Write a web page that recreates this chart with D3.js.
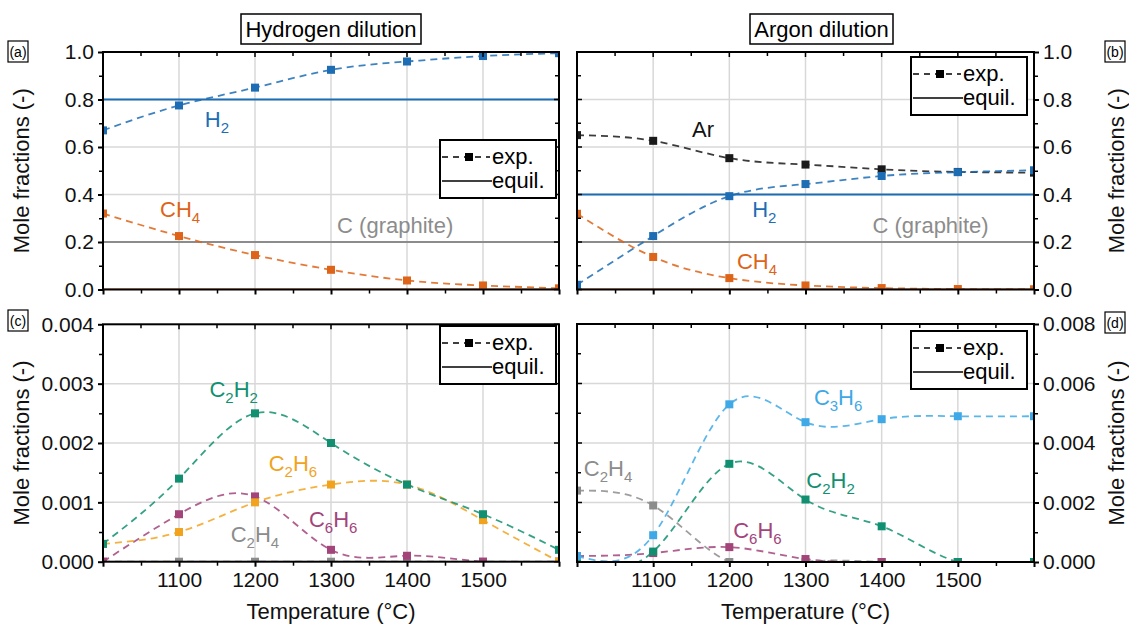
<!DOCTYPE html>
<html>
<head>
<meta charset="utf-8">
<script src="https://cdn.jsdelivr.net/npm/d3@7"></script>
<style>
  body { margin: 0; background: #fff; }
  text { font-family: "Liberation Sans", Arial, sans-serif; }
</style>
</head>
<body>
<svg id="chart" width="1129" height="624"></svg>
<script>
// temperatures (°C)
const temps = [1000, 1100, 1200, 1300, 1400, 1500, 1600];
const xTickLabels = [1100, 1200, 1300, 1400, 1500];

// (a) hydrogen dilution, main species
const h2Hyd  = [0.67, 0.775, 0.85, 0.925, 0.96, 0.983, 0.995];
const ch4Hyd = [0.32, 0.225, 0.145, 0.083, 0.038, 0.017, 0.005];
// (b) argon dilution, main species
const arArg  = [0.65, 0.626, 0.553, 0.526, 0.506, 0.495, 0.492];
const h2Arg  = [0.02, 0.225, 0.393, 0.444, 0.478, 0.494, 0.502];
const ch4Arg = [0.319, 0.137, 0.048, 0.017, 0.006, 0.002, 0.001];
// (c) hydrogen dilution, minor species
const c2h2Hyd = [0.0003, 0.0014, 0.0025, 0.002, 0.0013, 0.0008, 0.0002];
const c2h6Hyd = [0.0003, 0.0005, 0.001, 0.0013, 0.0013, 0.0007, 0.0];
const c6h6Hyd = [0.0, 0.0008, 0.0011, 0.0002, 0.0001, 0.0, 0.0];
const c2h4Hyd = [0.0, 0.0, 0.0, 0.0, 0.0, 0.0, 0.0];
// (d) argon dilution, minor species
const c3h6Arg = [0.0002, 0.0009, 0.0053, 0.0047, 0.0048, 0.0049, 0.0049];
const c2h2Arg = [0.0, 0.00035, 0.0033, 0.0021, 0.0012, 0.0, 0.0];
const c2h4Arg = [0.0024, 0.0019, 0.0, 0.0, 0.0, 0.0, 0.0];
const c6h6Arg = [0.0002, 0.0003, 0.0005, 0.0001, 0.0, 0.0, 0.0];

// equilibrium values [H2, C(graphite), CH4]
const equilHyd = [0.8, 0.2, 0.0];
const equilArg = [0.4, 0.2, 0.0];

const col = {
  h2: "#1c6db4", ch4: "#dd6418", gray: "#8c8c8c", ar: "#1a1a1a",
  c2h2: "#109070", c2h6: "#f2a31e", c6h6: "#a3447b", c3h6: "#3ea9e6"
};

const svg = d3.select("#chart");
const defs = svg.append("defs");

function drawPanel(p) {
  const x = d3.scaleLinear().domain([1000, 1600]).range([p.x0, p.x1]);
  const y = d3.scaleLinear().domain([0, p.yMax]).range([p.y1, p.y0]);
  const g = svg.append("g");

  defs.append("clipPath").attr("id", "clip-" + p.id)
    .append("rect").attr("x", p.x0).attr("y", p.y0)
    .attr("width", p.x1 - p.x0).attr("height", p.y1 - p.y0);

  const yMajor = d3.range(0, p.yMax + p.yStep / 2, p.yStep);
  const yMinor = d3.range(p.yStep / 2, p.yMax, p.yStep);
  const xMajor = d3.range(1000, 1601, 100);
  const xMinor = d3.range(1050, 1600, 50).filter(v => v % 100 !== 0);

  // grid
  g.selectAll(".gx").data(xTickLabels).enter().append("line")
    .attr("x1", d => x(d)).attr("x2", d => x(d))
    .attr("y1", p.y0).attr("y2", p.y1)
    .attr("stroke", "#d8d8d8").attr("stroke-width", 1.5);
  g.selectAll(".gy").data(yMajor.slice(1, -1)).enter().append("line")
    .attr("x1", p.x0).attr("x2", p.x1)
    .attr("y1", d => y(d)).attr("y2", d => y(d))
    .attr("stroke", "#d8d8d8").attr("stroke-width", 1.5);

  const plot = g.append("g").attr("clip-path", `url(#clip-${p.id})`);

  // equilibrium lines
  (p.equil || []).forEach(e => {
    plot.append("line")
      .attr("x1", p.x0).attr("x2", p.x1)
      .attr("y1", y(e.v)).attr("y2", y(e.v))
      .attr("stroke", e.color).attr("stroke-width", 2);
  });

  const line = d3.line().curve(d3.curveNatural)
    .x((d, i) => x(temps[i])).y(d => y(d));

  p.series.forEach(s => {
    plot.append("path").datum(s.values)
      .attr("d", line)
      .attr("fill", "none")
      .attr("stroke", s.color).attr("stroke-width", 1.8)
      .attr("stroke-opacity", 0.85)
      .attr("stroke-dasharray", "7,5");
  });
  p.series.forEach(s => {
    plot.selectAll(null).data(s.values).enter().append("rect")
      .attr("x", (d, i) => x(temps[i]) - 4)
      .attr("y", d => y(d) - 4)
      .attr("width", 8).attr("height", 8)
      .attr("fill", s.color);
  });

  // frame
  g.append("rect").attr("x", p.x0).attr("y", p.y0)
    .attr("width", p.x1 - p.x0).attr("height", p.y1 - p.y0)
    .attr("fill", "none").attr("stroke", "#000").attr("stroke-width", 2);

  // labelled y axis (outward) and mirrored ticks (inward)
  const labelLeft = p.side === "left";
  const yAxis = (labelLeft ? d3.axisLeft(y) : d3.axisRight(y))
    .tickValues(yMajor).tickSize(5).tickPadding(4)
    .tickFormat(d3.format(p.fmt));
  const ya = g.append("g")
    .attr("transform", `translate(${labelLeft ? p.x0 : p.x1},0)`)
    .call(yAxis);
  ya.select(".domain").remove();
  ya.selectAll("line").attr("stroke-width", 2);
  ya.selectAll("text").attr("font-size", 21).attr("fill", "#111");

  const yMinorAxis = (labelLeft ? d3.axisLeft(y) : d3.axisRight(y))
    .tickValues(yMinor).tickSize(4).tickFormat("");
  const ym = g.append("g")
    .attr("transform", `translate(${labelLeft ? p.x0 : p.x1},0)`)
    .call(yMinorAxis);
  ym.select(".domain").remove();
  ym.selectAll("line").attr("stroke-width", 1.5);

  // inward ticks on the opposite side
  const xo = labelLeft ? p.x1 : p.x0;
  const dir = labelLeft ? -1 : 1;
  g.selectAll(".yin").data(yMajor.concat(yMinor)).enter().append("line")
    .attr("x1", xo).attr("x2", (d, i) => xo + dir * (i < yMajor.length ? 5 : 4))
    .attr("y1", d => y(d)).attr("y2", d => y(d))
    .attr("stroke", "#000").attr("stroke-width", 1.5);

  // bottom axis (outward)
  const xAxis = d3.axisBottom(x).tickValues(xMajor).tickSize(5).tickPadding(5)
    .tickFormat(d => p.xLabels && xTickLabels.includes(d) ? d : "");
  const xa = g.append("g").attr("transform", `translate(0,${p.y1})`).call(xAxis);
  xa.select(".domain").remove();
  xa.selectAll("line").attr("stroke-width", 2);
  xa.selectAll("text").filter(function () { return this.textContent === ""; }).remove();
  xa.selectAll("text").attr("font-size", 21).attr("fill", "#111");
  const xm = g.append("g").attr("transform", `translate(0,${p.y1})`)
    .call(d3.axisBottom(x).tickValues(xMinor).tickSize(4).tickFormat(""));
  xm.select(".domain").remove();
  xm.selectAll("text").remove();
  xm.selectAll("line").attr("stroke-width", 1.5);
  ym.selectAll("text").remove();
  // top inward ticks
  g.selectAll(".xin").data(xMajor.concat(xMinor)).enter().append("line")
    .attr("x1", d => x(d)).attr("x2", d => x(d))
    .attr("y1", p.y0).attr("y2", (d, i) => p.y0 + (i < xMajor.length ? 5 : 4))
    .attr("stroke", "#000").attr("stroke-width", 1.5);

  // species labels
  p.labels.forEach(l => {
    const t = g.append("text")
      .attr("x", x(l.t)).attr("y", y(l.v))
      .attr("font-size", 22).attr("fill", l.color);
    let shifted = false;
    l.parts.forEach(part => {
      const ts = t.append("tspan").text(part.s);
      if (part.sub) {
        ts.attr("font-size", 15).attr("dy", 6);
        shifted = true;
      } else if (shifted) {
        ts.attr("dy", -6);
        shifted = false;
      }
    });
  });

  // legend
  const lg = g.append("g").attr("transform", `translate(${p.legend[0]},${p.legend[1]})`);
  lg.append("rect").attr("width", 116).attr("height", 58)
    .attr("fill", "#fff").attr("stroke", "#000").attr("stroke-width", 2);
  lg.append("line").attr("x1", 2).attr("x2", 50).attr("y1", 17).attr("y2", 17)
    .attr("stroke", "#000").attr("stroke-width", 1.5).attr("stroke-dasharray", "6,5");
  lg.append("rect").attr("x", 25).attr("y", 13).attr("width", 8).attr("height", 8).attr("fill", "#000");
  lg.append("text").attr("x", 52).attr("y", 24).attr("font-size", 22).text("exp.");
  lg.append("line").attr("x1", 2).attr("x2", 52).attr("y1", 41).attr("y2", 41)
    .attr("stroke", "#000").attr("stroke-width", 1.5);
  lg.append("text").attr("x", 52).attr("y", 48).attr("font-size", 22).text("equil.");

  // y title
  g.append("text")
    .attr("transform", `translate(${p.yTitleX},${(p.y0 + p.y1) / 2}) rotate(-90)`)
    .attr("text-anchor", "middle").attr("font-size", 22).attr("fill", "#111")
    .text("Mole fractions (-)");

  if (p.xLabels) {
    g.append("text").attr("x", (p.x0 + p.x1) / 2).attr("y", 619)
      .attr("text-anchor", "middle").attr("font-size", 22).attr("fill", "#111")
      .text("Temperature (\u00b0C)");
  }

  // panel letter
  g.append("rect").attr("x", p.tag[0]).attr("y", p.tag[1]).attr("width", 20).attr("height", 21)
    .attr("fill", "#fff").attr("stroke", "#000").attr("stroke-width", 1.2);
  g.append("text").attr("x", p.tag[0] + 10).attr("y", p.tag[1] + 16)
    .attr("text-anchor", "middle").attr("font-size", 14).text(p.letter);
}

const sub = s => ({ s, sub: true });
const txt = s => ({ s });

drawPanel({
  id: "a", letter: "(a)", x0: 103, x1: 559, y0: 52, y1: 289.5, yMax: 1.0, yStep: 0.2, fmt: ".1f",
  side: "left", xLabels: false, yTitleX: 29, legend: [440, 140], tag: [8, 41],
  equil: [{ v: equilHyd[0], color: col.h2 }, { v: equilHyd[1], color: col.gray }, { v: equilHyd[2], color: col.ch4 }],
  series: [{ values: h2Hyd, color: col.h2 }, { values: ch4Hyd, color: col.ch4 }],
  labels: [
    { t: 1134, v: 0.685, color: col.h2, parts: [txt("H"), sub("2")] },
    { t: 1075, v: 0.306, color: col.ch4, parts: [txt("CH"), sub("4")] },
    { t: 1308, v: 0.237, color: col.gray, parts: [txt("C (graphite)")] }
  ]
});

drawPanel({
  id: "b", letter: "(b)", x0: 577, x1: 1034, y0: 52, y1: 289.5, yMax: 1.0, yStep: 0.2, fmt: ".1f",
  side: "right", xLabels: false, yTitleX: 1124, legend: [911, 57], tag: [1105, 41],
  equil: [{ v: equilArg[0], color: col.h2 }, { v: equilArg[1], color: col.gray }, { v: equilArg[2], color: col.ch4 }],
  series: [{ values: arArg, color: col.ar }, { values: h2Arg, color: col.h2 }, { values: ch4Arg, color: col.ch4 }],
  labels: [
    { t: 1151, v: 0.643, color: "#111", parts: [txt("Ar")] },
    { t: 1230, v: 0.306, color: col.h2, parts: [txt("H"), sub("2")] },
    { t: 1388, v: 0.237, color: col.gray, parts: [txt("C (graphite)")] },
    { t: 1210, v: 0.086, color: col.ch4, parts: [txt("CH"), sub("4")] }
  ]
});

drawPanel({
  id: "c", letter: "(c)", x0: 103, x1: 559, y0: 324.3, y1: 561.7, yMax: 0.004, yStep: 0.001, fmt: ".3f",
  side: "left", xLabels: true, yTitleX: 29, legend: [440, 326], tag: [8, 310],
  equil: [],
  series: [{ values: c2h4Hyd, color: col.gray }, { values: c6h6Hyd, color: col.c6h6 },
           { values: c2h6Hyd, color: col.c2h6 }, { values: c2h2Hyd, color: col.c2h2 }],
  labels: [
    { t: 1140, v: 0.00278, color: col.c2h2, parts: [txt("C"), sub("2"), txt("H"), sub("2")] },
    { t: 1218, v: 0.00153, color: col.c2h6, parts: [txt("C"), sub("2"), txt("H"), sub("6")] },
    { t: 1271, v: 0.00059, color: col.c6h6, parts: [txt("C"), sub("6"), txt("H"), sub("6")] },
    { t: 1168, v: 0.00033, color: col.gray, parts: [txt("C"), sub("2"), txt("H"), sub("4")] }
  ]
});

drawPanel({
  id: "d", letter: "(d)", x0: 577, x1: 1034, y0: 324, y1: 562, yMax: 0.008, yStep: 0.002, fmt: ".3f",
  side: "right", xLabels: true, yTitleX: 1124, legend: [911, 331], tag: [1105, 312],
  equil: [],
  series: [{ values: c2h4Arg, color: col.gray }, { values: c6h6Arg, color: col.c6h6 },
           { values: c2h2Arg, color: col.c2h2 }, { values: c3h6Arg, color: col.c3h6 }],
  labels: [
    { t: 1009, v: 0.00289, color: col.gray, parts: [txt("C"), sub("2"), txt("H"), sub("4")] },
    { t: 1311, v: 0.00528, color: col.c3h6, parts: [txt("C"), sub("3"), txt("H"), sub("6")] },
    { t: 1301, v: 0.00248, color: col.c2h2, parts: [txt("C"), sub("2"), txt("H"), sub("2")] },
    { t: 1205, v: 0.0008, color: col.c6h6, parts: [txt("C"), sub("6"), txt("H"), sub("6")] }
  ]
});

// column titles
[{ s: "Hydrogen dilution", x0: 241, x1: 421 }, { s: "Argon dilution", x0: 750, x1: 893 }].forEach(t => {
  svg.append("rect").attr("x", t.x0).attr("y", 14).attr("width", t.x1 - t.x0).attr("height", 30)
    .attr("fill", "#fff").attr("stroke", "#000").attr("stroke-width", 1.5);
  svg.append("text").attr("x", (t.x0 + t.x1) / 2).attr("y", 37)
    .attr("text-anchor", "middle").attr("font-size", 22).text(t.s);
});
</script>
</body>
</html>
